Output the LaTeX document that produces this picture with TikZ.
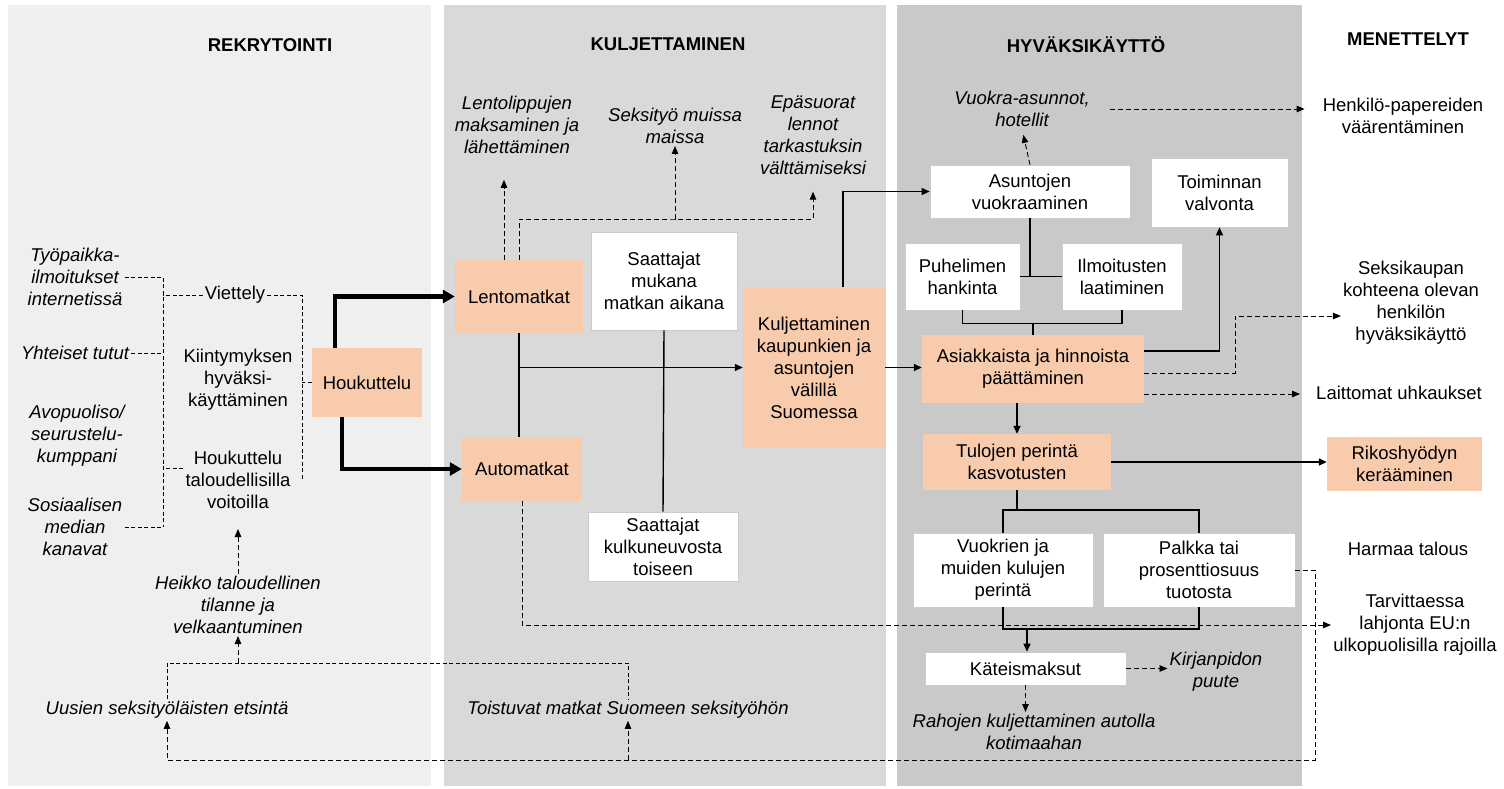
\documentclass[tikz,border=0pt]{standalone}
\usepackage{fontspec}
\setmainfont{Liberation Sans}
\usetikzlibrary{arrows.meta,calc}
\definecolor{orng}{HTML}{F8CBAD}
\definecolor{pa}{HTML}{EFEFEF}
\definecolor{pb}{HTML}{D9D9D9}
\definecolor{pc}{HTML}{C9C9C9}
\begin{document}
\begin{tikzpicture}[x=1pt,y=-1pt,
  every node/.style={font=\fontsize{18.5}{22}\selectfont, align=center, inner sep=2pt},
  itx/.style={font=\fontsize{18.5}{22}\selectfont\itshape},
  hdr/.style={font=\fontsize{18.5}{22}\selectfont\bfseries},
  obox/.style={fill=orng},
  wbox/.style={fill=white, draw=gray!40, line width=0.6pt},
  sol/.style={line width=1.4pt},
  sola/.style={line width=1.4pt, -{Triangle[length=8pt,width=7pt]}},
  dsh/.style={line width=0.9pt, dash pattern=on 4pt off 2.5pt},
  dsha/.style={line width=0.9pt, dash pattern=on 5pt off 3pt, -{Triangle[length=8pt,width=6.5pt]}},
  thk/.style={line width=4.5pt, line join=miter, -{Triangle[length=12pt,width=13pt]}}]
\useasboundingbox (0,0) rectangle (1504,788);
% panels
\fill[pa] (8,5) rectangle (431,786);
\fill[pb] (444,5) rectangle (886,786);
\fill[pc] (897,5) rectangle (1302,786);
% headers
\node[hdr] (h1) at (270,45) {REKRYTOINTI};
\node[hdr] (h2) at (668,44) {KULJETTAMINEN};
\node[hdr] (h3) at (1086,45) {HYVÄKSIKÄYTTÖ};
\node[hdr] (h4) at (1408,39) {MENETTELYT};
% left column
\node[itx] (tyo) at (75,277) {Työpaikka-\\ilmoitukset\\internetissä};
\node[itx] (yht) at (75,353) {Yhteiset tutut};
\node[itx] (avo) at (77,436) {Avopuoliso/\\seurustelu-\\kumppani};
\node[itx] (sos) at (75,527) {Sosiaalisen\\median\\kanavat};
\node (viet) at (235,295) {Viettely};
\node (kiin) at (238,380) {Kiintymyksen\\hyväksi-\\käyttäminen};
\node (houk) at (238,480) {Houkuttelu\\taloudellisilla\\voitoilla};
\node[itx] (heik) at (238,605) {Heikko taloudellinen\\tilanne ja\\velkaantuminen};
\node[itx] (uus) at (167,710) {Uusien seksityöläisten etsintä};
\node[itx] (tois) at (628,710) {Toistuvat matkat Suomeen seksityöhön};
\node[obox, minimum width=110, minimum height=69] (hou) at (367,382.5) {Houkuttelu};
% transport
\node[obox, minimum width=128, minimum height=73] (lento) at (519,296.5) {Lentomatkat};
\node[obox, minimum width=120, minimum height=64] (auto) at (522,469) {Automatkat};
\node[wbox, minimum width=146, minimum height=98] (saat1) at (664,281) {Saattajat\\mukana\\matkan aikana};
\node[wbox, minimum width=150, minimum height=69] (saat2) at (663,546.5) {Saattajat\\kulkuneuvosta\\toiseen};
\node[obox, minimum width=142, minimum height=161] (kulj) at (814,367.5) {Kuljettaminen\\kaupunkien ja\\asuntojen\\välillä\\Suomessa};
\node[itx] (lenl) at (517,125) {Lentolippujen\\maksaminen ja\\lähettäminen};
\node[itx] (seks) at (675,126) {Seksityö muissa\\maissa};
\node[itx] (epa) at (813,135) {Epäsuorat\\lennot\\tarkastuksin\\välttämiseksi};
% exploitation
\node[itx] (vuokra) at (1022,109) {Vuokra-asunnot,\\hotellit};
\node[wbox, minimum width=200, minimum height=53] (asun) at (1030,191.5) {Asuntojen\\vuokraaminen};
\node[wbox, minimum width=137, minimum height=69] (toim) at (1219.5,192.5) {Toiminnan\\valvonta};
\node[wbox, minimum width=115, minimum height=67] (puh) at (962.5,276.5) {Puhelimen\\hankinta};
\node[wbox, minimum width=120, minimum height=67] (ilm) at (1122,276.5) {Ilmoitusten\\laatiminen};
\node[obox, minimum width=222, minimum height=68] (asia) at (1033,369) {Asiakkaista ja hinnoista\\päättäminen};
\node[obox, minimum width=188, minimum height=56] (tulo) at (1017,462) {Tulojen perintä\\kasvotusten};
\node[wbox, minimum width=180, minimum height=74] (vuok) at (1003,570) {Vuokrien ja\\muiden kulujen\\perintä};
\node[wbox, minimum width=192, minimum height=74] (palk) at (1199,570) {Palkka tai\\prosenttiosuus\\tuotosta};
\node[wbox, minimum width=201, minimum height=33] (kate) at (1025.5,668.5) {Käteismaksut};
\node[itx] (kirj) at (1216,672) {Kirjanpidon\\puute};
\node[itx] (raho) at (1034,732) {Rahojen kuljettaminen autolla\\kotimaahan};
% procedures
\node (henk) at (1403,116) {Henkilö-papereiden\\väärentäminen};
\node (sekk) at (1411,303) {Seksikaupan\\kohteena olevan\\henkilön\\hyväksikäyttö};
\node (lait) at (1399,393) {Laittomat uhkaukset};
\node[obox, minimum width=155, minimum height=54] (riko) at (1404.5,464) {Rikoshyödyn\\kerääminen};
\node (harm) at (1408,549) {Harmaa talous};
\node (tarv) at (1415,625) {Tarvittaessa\\lahjonta EU:n\\ulkopuolisilla rajoilla};
% coordinates
\coordinate (lvB) at (163,527);
\coordinate (rvB) at (302,480);
\coordinate (br) at (400,663);
\coordinate (bl) at (1315,760);
\coordinate (dj) at (675,219);
\coordinate (skb) at (1235,316);
\coordinate (tj) at (1017,510);
\coordinate (bj) at (1027,629);
\coordinate (hk) at ($(houk.west)+(0,-12)$);
\coordinate (la) at ($(asia.east)+(0,25)$);
\coordinate (sa) at ($(asia.east)+(0,4)$);
\coordinate (ta) at ($(asia.east)+(0,-18)$);
% left dashed tree
\draw[dsh] (tyo.east) -| (lvB);
\draw[dsh] (yht.east) -- (yht.east -| lvB);
\draw[dsh] (sos.east) -- (sos.east -| lvB);
\draw[dsh] (viet.west) -- (viet.west -| lvB);
\draw[dsh] (hk) -- (hk -| lvB);
\draw[dsh] (viet.east) -| (rvB);
\draw[dsh] (hou.west) -- (hou.west -| rvB);
% recruitment loop
\draw[dsha, shorten >=18pt] (heik.north) -- (houk.south);
\draw[dsh] (uus.north) |- (br) -| (tois.north);
\draw[dsha] (heik.south |- br) -- (heik.south);
\draw[dsha] (palk.east) -| (bl) -| (uus.south);
\draw[dsha] (tois.south |- bl) -- (tois.south);
% thick arrows
\draw[thk] ($(hou.north)+(-32,0)$) |- (lento.west);
\draw[thk] ($(hou.south)+(-25,0)$) |- (auto.west);
% transport connectors
\draw[dsha] ($(lento.north)+(-15,0)$) -- ++(0,-80);
\draw[dsha, shorten >=15pt] (lento.north) |- (dj) -| (epa.south);
\draw[dsha] (dj) -- (seks.south);
\draw[sol] (lento.south) -- (lento.south |- auto.north);
\draw[sola] (lento.south |- kulj.west) -- (kulj.west);
\draw[sol] (saat1.south) -- (saat2.north);
\draw[sola] ($(kulj.north)+(29,0)$) |- (asun.west);
\draw[sola] (kulj.east) -- (kulj.east -| asia.west);
\draw[dsha] (auto.south) |- (tarv.west);
% exploitation connectors
\draw[dsha, shorten >=6pt] (asun.north) -- (vuokra.south);
\draw[dsha, shorten <=18pt, shorten >=16pt] (vuokra.east) -- (vuokra.east -| henk.west);
\draw[sol] (puh.east) -- (ilm.west);
\draw[sol] (asun.south) -- (asun.south |- puh.east);
\draw[sol] (puh.south) -- ++(0,13) -| (ilm.south);
\draw[sol] (asia.north) -- ++(0,-12);
\draw[sola] (ta) -| (toim.south);
\draw[dsha] (sa) -| (skb) -- (skb -| sekk.west);
\draw[dsha, shorten >=14pt] (la) -- (la -| lait.west);
\draw[sola] (tulo.north |- asia.south) -- (tulo.north);
\draw[sola] (tulo.east) -- (tulo.east -| riko.west);
\draw[sol] (tulo.south) -- (tj);
\draw[sol] (vuok.north) |- (tj) -| (palk.north);
\draw[sol] (vuok.south) |- (bj) -| (palk.south);
\draw[sola] (bj) -- (bj |- kate.north);
\draw[dsha] (kate.east) -- (kate.east -| kirj.west);
\draw[dsha] (kate.south) -- (kate.south |- raho.north);
\end{tikzpicture}
\end{document}
